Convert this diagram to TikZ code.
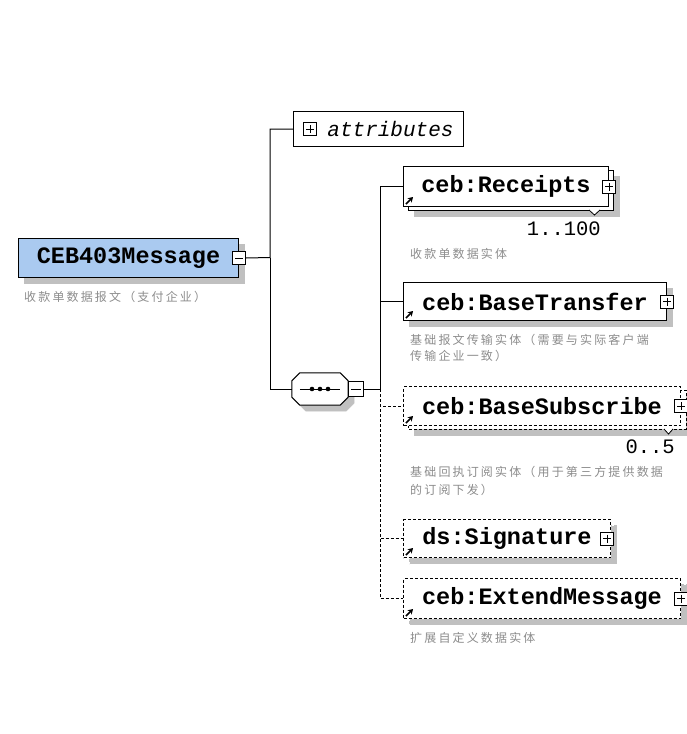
\documentclass[tikz,border=0pt]{standalone}
\usepackage{fontspec}
\setmainfont{Liberation Serif}
\newfontfamily\monofont{Liberation Mono}
\newfontfamily\cjkfont[LetterSpace=18]{Noto Sans CJK SC}
\usetikzlibrary{shadows,arrows.meta}
\definecolor{elemblue}{RGB}{170,202,240}
\definecolor{docgray}{RGB}{140,140,140}
\definecolor{shadowgray}{RGB}{192,192,192}
\def\elemtxt{\monofont\bfseries\fontsize{23.5}{26}\selectfont}
\def\attrtxt{\monofont\itshape\fontsize{21}{23}\selectfont}
\def\multtxt{\monofont\fontsize{20.5}{22}\selectfont}
\def\doctxt{\cjkfont\fontsize{12}{14}\selectfont}

\begin{document}
\begin{tikzpicture}[x=1pt,y=-1pt,
	elem/.style={draw, line width=1pt, fill=white, font=\elemtxt, inner sep=0pt, anchor=north west},
	optional/.style={dash pattern=on 3pt off 2pt},
	boxshadow/.style={drop shadow={shadow xshift=6pt, shadow yshift=-6pt, fill=shadowgray, draw=shadowgray, opacity=1}},
	togbox/.style={draw, line width=0.8pt, fill=white, minimum size=13pt, inner sep=0pt},
	plusbox/.style={togbox, path picture={
			\draw ([xshift=2.5pt]path picture bounding box.west) -- ([xshift=-2.5pt]path picture bounding box.east)
			([yshift=-2.5pt]path picture bounding box.north) -- ([yshift=2.5pt]path picture bounding box.south);}},
	minusbox/.style={togbox, path picture={
			\draw ([xshift=2.5pt]path picture bounding box.west) -- ([xshift=-2.5pt]path picture bounding box.east);}},
	refarrow/.style={line width=1.6pt, -{Stealth[length=5pt,width=6pt]}},
	docnote/.style={font=\doctxt, text=docgray, anchor=west, inner sep=0pt},
	mult/.style={font=\multtxt, anchor=east, inner sep=0pt},
	]
			%%%%% START %%%%%
			\useasboundingbox (0,0) rectangle (686,734);
			
			% root element
			\node[elem, fill=elemblue, boxshadow, minimum width=220pt, minimum height=39pt] (main) at (18,238) {CEB403Message};
			\node[minusbox] (mainx) at (main.east) {};
			\node[docnote] (maindoc) at (24,297) {收款单数据报文（支付企业）};
			
			% attributes
			\node[elem, font=\attrtxt, minimum width=170pt, minimum height=35pt] (attr) at (293,111) {\hspace*{24pt}attributes};
			\node[plusbox] (attrx) at ([xshift=17pt]attr.west) {};
			
			% sequence
			\node[minimum width=56pt, minimum height=32pt, inner sep=0pt] (seq) at (320,389) {};
			\draw[line width=1pt, fill=white, boxshadow] ([xshift=8pt]seq.north west) -- ([xshift=-8pt]seq.north east)
				-- ([yshift=-8pt]seq.north east) -- ([yshift=8pt]seq.south east) -- ([xshift=-8pt]seq.south east)
				-- ([xshift=8pt]seq.south west) -- ([yshift=8pt]seq.south west) -- ([yshift=-8pt]seq.north west) -- cycle;
			\draw[line width=0.8pt] ([xshift=8pt]seq.west) -- ([xshift=-8pt]seq.east);
			\foreach \dx in {-8,0,8}
				\fill ([xshift=\dx pt]seq.center) circle (2.3pt);
			\node[minusbox, minimum size=15pt] (seqx) at ([xshift=8pt]seq.east) {};
			
			% ceb:Receipts
			\draw[line width=1pt, fill=white, boxshadow] (408,170) rectangle (613,210);
			\draw[line width=0.8pt, fill=white] (589,210) -- (594.5,215) -- (600,210);
			\node[elem, minimum width=205pt, minimum height=40pt] (rec) at (403,166) {ceb:Receipts};
			\node[plusbox] (recx) at (rec.east) {};
			\draw[refarrow] ([shift={(3,-3)}]rec.south west) -- ++(7,-7);
			\node[mult] (recn) at (601,229) {1..100};
			\node[docnote] (recdoc) at (410,254) {收款单数据实体};
			
			% ceb:BaseTransfer
			\node[elem, boxshadow, minimum width=263pt, minimum height=38pt] (bt) at (403,282) {ceb:BaseTransfer};
			\node[plusbox] (btx) at (bt.east) {};
			\draw[refarrow] ([shift={(3,-3)}]bt.south west) -- ++(7,-7);
			\node[docnote] (btdoc1) at (410,340) {基础报文传输实体（需要与实际客户端};
			\node[docnote] (btdoc2) at (410,356) {传输企业一致）};
			
			% ceb:BaseSubscribe
			\draw[optional, line width=1pt, fill=white, boxshadow] (408,390) rectangle (686,429);
			\draw[line width=0.8pt, fill=white] (664,429) -- (668.5,434) -- (673,429);
			\node[elem, optional, minimum width=277pt, minimum height=39pt] (bs) at (403,386) {ceb:BaseSubscribe};
			\node[plusbox] (bsx) at (bs.east) {};
			\draw[refarrow] ([shift={(3,-3)}]bs.south west) -- ++(7,-7);
			\node[mult] (bsn) at (675,447) {0..5};
			\node[docnote] (bsdoc1) at (410,472) {基础回执订阅实体（用于第三方提供数据};
			\node[docnote] (bsdoc2) at (410,490) {的订阅下发）};
			
			% ds:Signature
			\node[elem, optional, boxshadow, minimum width=207pt, minimum height=38pt] (sig) at (403,519) {ds:Signature};
			\node[plusbox] (sigx) at ([xshift=-4pt]sig.east) {};
			\draw[refarrow] ([shift={(3,-3)}]sig.south west) -- ++(7,-7);
			
			% ceb:ExtendMessage
			\node[elem, optional, boxshadow, minimum width=277pt, minimum height=40pt] (ext) at (403,578) {ceb:ExtendMessage};
			\node[plusbox] (extx) at (ext.east) {};
			\draw[refarrow] ([shift={(3,-3)}]ext.south west) -- ++(7,-7);
			\node[docnote] (extdoc) at (410,638) {扩展自定义数据实体};
			
			% connectors
			\coordinate (fork1) at (270,257.5);
			\coordinate (fork2) at (380,389);
			\draw[line width=1pt] (mainx.east) -- (fork1) |- (attr.west);
			\draw[line width=1pt] (fork1) |- (seq.west);
			\draw[line width=1pt] (seqx.east) -- (fork2) |- (rec.west);
			\draw[line width=1pt] (fork2) |- (bt.west);
			\draw[line width=1pt, optional] (fork2) |- (bs.west);
			\draw[line width=1pt, optional] (fork2) |- (sig.west);
			\draw[line width=1pt, optional] (fork2) |- (ext.west);
			
			%%%%% END %%%%%
\end{tikzpicture}
\end{document}
